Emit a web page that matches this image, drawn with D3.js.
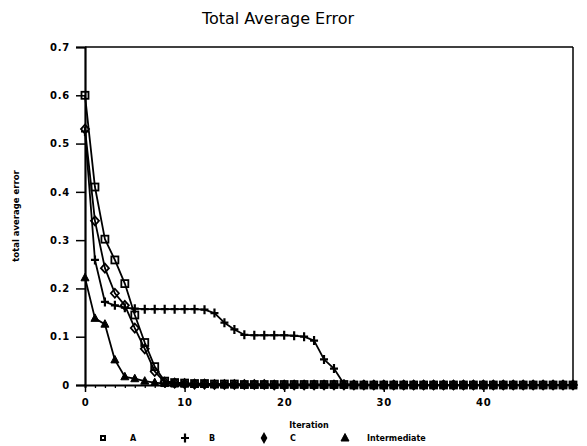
<!DOCTYPE html>
<html>
<head>
<meta charset="utf-8">
<script src="https://cdn.jsdelivr.net/npm/d3@7"></script>
<style>
  body { margin: 0; background: #fff; }
  svg { display: block; }
  .tick-label { font-family: 'DejaVu Sans', sans-serif; font-weight: bold; font-size: 10px; letter-spacing: 0.8px; fill: #000; }
  .small-label { font-family: 'DejaVu Sans', sans-serif; font-weight: bold; font-size: 8px; fill: #000; }
  .title { font-family: 'DejaVu Sans', sans-serif; font-size: 16px; fill: #000; }
</style>
</head>
<body>
<div id="chart"></div>
<script>
const iterations = [0,1,2,3,4,5,6,7,8,9,10,11,12,13,14,15,16,17,18,19,20,21,22,23,24,25,26,27,28,29,30,31,32,33,34,35,36,37,38,39,40,41,42,43,44,45,46,47,48,49];

const seriesA = [0.600,0.410,0.302,0.259,0.210,0.145,0.088,0.038,0.008,0.005,0.004,0.003,0.003,0.002,0.002,0.002,0.001,0.001,0.001,0.001,0.001,0.001,0.001,0.001,0.001,0.001,0.001,0,0,0,0,0,0,0,0,0,0,0,0,0,0,0,0,0,0,0,0,0,0,0];
const seriesB = [0.525,0.259,0.172,0.165,0.160,0.158,0.157,0.157,0.157,0.157,0.157,0.157,0.156,0.149,0.129,0.115,0.104,0.103,0.103,0.103,0.103,0.102,0.100,0.092,0.053,0.034,0.002,0.001,0.001,0,0,0,0,0,0,0,0,0,0,0,0,0,0,0,0,0,0,0,0,0];
const seriesC = [0.530,0.340,0.242,0.190,0.165,0.118,0.075,0.028,0.006,0.004,0.003,0.002,0.002,0.001,0.001,0.001,0.001,0.001,0.001,0,0,0,0,0,0,0,0,0,0,0,0,0,0,0,0,0,0,0,0,0,0,0,0,0,0,0,0,0,0,0];
const seriesInter = [0.222,0.138,0.126,0.052,0.017,0.013,0.008,0.005,0.003,0.002,0.002,0.001,0.001,0.001,0,0,0,0,0,0,0,0,0,0,0,0,0,0,0,0,0,0,0,0,0,0,0,0,0,0,0,0,0,0,0,0,0,0,0,0];

const seriesNames = ['A', 'B', 'C', 'Intermediate'];
const seriesSymbols = ['square', 'plus', 'diamond', 'triangle'];
const yTicks = [0, 0.1, 0.2, 0.3, 0.4, 0.5, 0.6, 0.7];
const xTicks = [0, 10, 20, 30, 40];

const width = 587;
const height = 446;
const margin = { top: 47, right: 14, bottom: 61, left: 85 };
const plotWidth = width - margin.left - margin.right;
const plotHeight = height - margin.top - margin.bottom;

const svg = d3.select('#chart')
  .append('svg')
    .attr('width', width)
    .attr('height', height);

const x = d3.scaleLinear().domain([0, 49]).range([0, plotWidth]);
const y = d3.scaleLinear().domain([0, 0.7]).range([plotHeight, 0]);

const plot = svg.append('g')
  .attr('transform', 'translate(' + margin.left + ',' + margin.top + ')');

// frame: top and right thin, left thick
plot.append('line')
  .attr('x1', 0).attr('x2', plotWidth).attr('y1', 0).attr('y2', 0)
  .attr('stroke', '#000').attr('stroke-width', 1.5);
plot.append('line')
  .attr('x1', plotWidth).attr('x2', plotWidth).attr('y1', 0).attr('y2', plotHeight)
  .attr('stroke', '#000').attr('stroke-width', 1.5);

// y axis
const yAxis = plot.append('g')
  .call(d3.axisLeft(y).tickValues(yTicks).tickSize(9).tickPadding(6)
    .tickFormat((d) => d === 0 ? '0' : d3.format('.1f')(d)));
yAxis.select('.domain').attr('stroke-width', 2.2);
yAxis.selectAll('.tick line').attr('stroke-width', 1.5);
yAxis.selectAll('text').attr('class', 'tick-label').style('font-size', null).style('font-family', null);

// x axis minor ticks
const xMinor = plot.append('g')
  .attr('transform', 'translate(0,' + plotHeight + ')')
  .call(d3.axisBottom(x).tickValues(iterations).tickSize(3).tickFormat(''));
xMinor.select('.domain').attr('stroke-width', 1.8);
xMinor.selectAll('.tick line').attr('stroke-width', 1.3);

const xAxis = plot.append('g')
  .attr('transform', 'translate(0,' + plotHeight + ')')
  .call(d3.axisBottom(x).tickValues(xTicks).tickSize(7).tickPadding(7));
xAxis.select('.domain').remove();
xAxis.selectAll('.tick line').attr('stroke-width', 1.5);
xAxis.selectAll('text').attr('class', 'tick-label').style('font-size', null).style('font-family', null);

svg.selectAll('.tick text').attr('fill', '#000');

// series
const allSeries = [seriesA, seriesB, seriesC, seriesInter];

const line = d3.line()
  .x((d, i) => x(iterations[i]))
  .y((d) => y(d));

function drawSymbol(g, kind, cx, cy) {
  if (kind === 'square') {
    g.append('rect')
      .attr('x', cx - 3.5).attr('y', cy - 3.5)
      .attr('width', 7).attr('height', 7)
      .attr('fill', 'none').attr('stroke', '#000').attr('stroke-width', 1.8);
  } else if (kind === 'plus') {
    g.append('path')
      .attr('d', 'M' + (cx - 4) + ',' + cy + 'H' + (cx + 4) + 'M' + cx + ',' + (cy - 4.5) + 'V' + (cy + 4.5))
      .attr('stroke', '#000').attr('stroke-width', 2.2);
  } else if (kind === 'diamond') {
    g.append('path')
      .attr('d', 'M' + cx + ',' + (cy - 4.5) + 'L' + (cx + 4) + ',' + cy + 'L' + cx + ',' + (cy + 4.5) + 'L' + (cx - 4) + ',' + cy + 'Z')
      .attr('fill', 'none').attr('stroke', '#000').attr('stroke-width', 1.8);
  } else {
    g.append('path')
      .attr('d', 'M' + cx + ',' + (cy - 4.5) + 'L' + (cx + 4) + ',' + (cy + 3) + 'L' + (cx - 4) + ',' + (cy + 3) + 'Z')
      .attr('fill', '#000').attr('stroke', '#000').attr('stroke-width', 1);
  }
}

allSeries.forEach((values, s) => {
  plot.append('path')
    .datum(values)
    .attr('d', line)
    .attr('fill', 'none')
    .attr('stroke', '#000')
    .attr('stroke-width', 1.8)
    .attr('stroke-linejoin', 'round');
});

allSeries.forEach((values, s) => {
  const markers = plot.append('g').attr('class', 'markers-' + s);
  values.forEach((v, i) => {
    drawSymbol(markers, seriesSymbols[s], x(iterations[i]), y(v));
  });
});

// title
svg.append('text')
  .attr('class', 'title')
  .attr('x', 278)
  .attr('y', 24)
  .attr('text-anchor', 'middle')
  .text('Total Average Error');

// y axis title
svg.append('text')
  .attr('class', 'small-label')
  .attr('transform', 'translate(19,216) rotate(-90)')
  .attr('text-anchor', 'middle')
  .style('font-size', '8.5px')
  .text('total average error');

// x axis title
svg.append('text')
  .attr('class', 'small-label')
  .attr('x', 309)
  .attr('y', 428)
  .attr('text-anchor', 'middle')
  .text('Iteration');

// legend
const legendMarkerX = [103, 185, 264, 345];
const legendTextX = [133, 212, 293, 367];
const legendY = 438;

const legend = svg.append('g').attr('class', 'legend');
seriesNames.forEach((name, i) => {
  const item = legend.append('g');
  if (seriesSymbols[i] === 'diamond') {
    item.append('path')
      .attr('d', d3.symbol().type(d3.symbolDiamond).size(40))
      .attr('transform', 'translate(' + legendMarkerX[i] + ',' + legendY + ')')
      .attr('fill', '#000');
  } else if (seriesSymbols[i] === 'square') {
    item.append('rect')
      .attr('x', legendMarkerX[i] - 3).attr('y', legendY - 3)
      .attr('width', 6).attr('height', 6)
      .attr('fill', '#000');
    item.append('rect')
      .attr('x', legendMarkerX[i] - 1).attr('y', legendY - 1)
      .attr('width', 2).attr('height', 2)
      .attr('fill', '#fff');
  } else {
    drawSymbol(item, seriesSymbols[i], legendMarkerX[i], legendY);
  }
  item.append('text')
    .attr('class', 'small-label')
    .attr('x', legendTextX[i])
    .attr('y', legendY + 3)
    .attr('text-anchor', name === 'Intermediate' ? 'start' : 'middle')
    .text(name);
});
</script>
</body>
</html>
